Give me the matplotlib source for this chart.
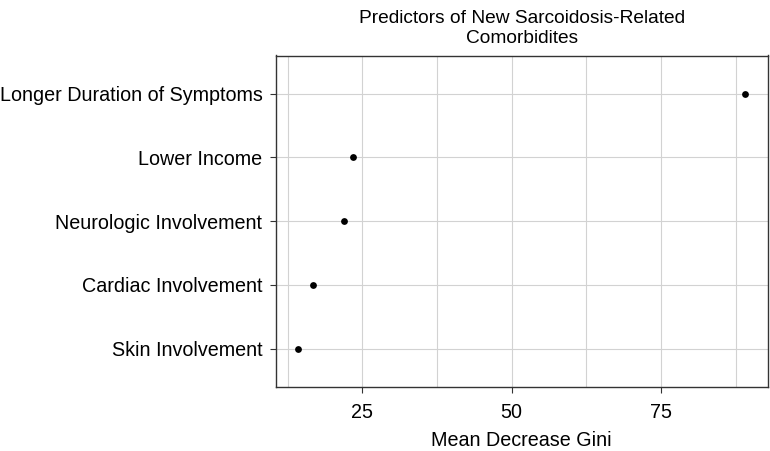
import matplotlib
matplotlib.use("Agg")
import matplotlib.pyplot as plt
from matplotlib.ticker import MultipleLocator

categories = ["Skin Involvement", "Cardiac Involvement", "Neurologic Involvement",
              "Lower Income", "Longer Duration of Symptoms"]
gini = [14.3, 16.7, 22.0, 23.5, 89.1]

plt.rcParams['font.family'] = ['Liberation Sans', 'DejaVu Sans']

fig = plt.figure(figsize=(7.7, 4.51), dpi=100)
ax = fig.add_axes([276/770, 1-387/451, (767.5-276)/770, (387-55.5)/451])

ypos = list(range(len(categories)))
ax.scatter(gini, ypos, s=24, color='black', zorder=3, linewidths=0)

ax.set_yticks(ypos)
ax.set_yticklabels(categories)
ax.set_ylim(-0.6, len(categories) - 0.4)
rng = max(gini) - min(gini)
ax.set_xlim(min(gini) - 0.05*rng, max(gini) + 0.05*rng)
ax.xaxis.set_major_locator(MultipleLocator(25))
ax.xaxis.set_minor_locator(MultipleLocator(12.5))

ax.grid(True, which='both', axis='x', color='#d2d2d2', linewidth=0.8)
ax.grid(True, which='major', axis='y', color='#d2d2d2', linewidth=0.8)
ax.set_axisbelow(True)
ax.tick_params(axis='x', which='minor', length=0)
ax.tick_params(axis='y', which='major', pad=5.5)
ax.tick_params(axis='x', which='major', pad=7)
ax.tick_params(axis='both', which='major', length=4.3, width=0.8, color='#333333',
               labelsize=14.2, labelcolor='black')
for s in ax.spines.values():
    s.set_color('#333333')
    s.set_linewidth(1.0)

ax.set_xlabel("Mean Decrease Gini", fontsize=14.2, labelpad=7)
ax.set_title("Predictors of New Sarcoidosis-Related\nComorbidites", fontsize=13.8, pad=9,
             linespacing=1.25)

fig.savefig("out.png", dpi=100)
